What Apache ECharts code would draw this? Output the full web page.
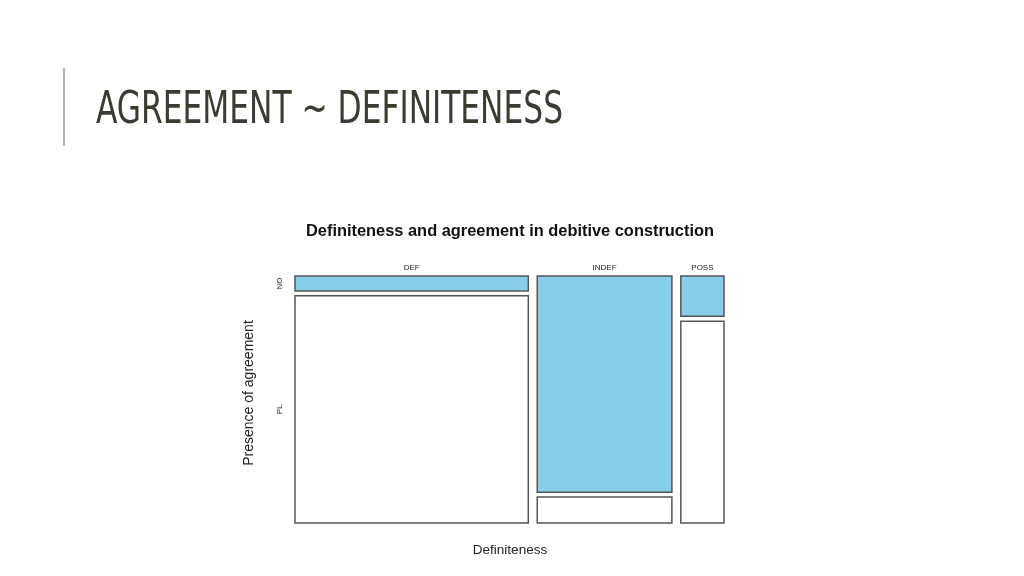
<!DOCTYPE html>
<html><head><meta charset="utf-8">
<script src="https://cdn.jsdelivr.net/npm/echarts@6/dist/echarts.min.js"></script>
<style>html,body{margin:0;padding:0;background:#fff}#c{width:1024px;height:576px}</style>
</head><body><div id="c"></div>
<script>
// Data (counts read from the mosaic proportions)
const categories = ['DEF', 'INDEF', 'POSS'];
const rows = ['NO', 'PL'];
const countsNO = [14, 117, 7];
const countsPL = [213, 14, 35];

const xGap = 8.7;   // gap between columns, in count units
const yGap = 0.02;  // gap between rows, in proportion units

const totals = categories.map((c, i) => countsNO[i] + countsPL[i]);
const grand = totals.reduce((a, b) => a + b, 0);
const xMax = grand + xGap * (categories.length - 1);

const rects = [];
const colLabels = [];
const rowLabels = [];
let x = 0;
categories.forEach((c, i) => {
  const pNO = countsNO[i] / totals[i];
  const x0 = x, x1 = x + totals[i];
  rects.push([x0, x1, 0, pNO, 1]);
  rects.push([x0, x1, pNO + yGap, 1 + yGap, 0]);
  colLabels.push([(x0 + x1) / 2, 0, c]);
  if (i === 0) {
    rowLabels.push([0, pNO / 2, rows[0]]);
    rowLabels.push([0, pNO + yGap + (1 - pNO) / 2, rows[1]]);
  }
  x = x1 + xGap;
});

const slideTitle = 'AGREEMENT ~ DEFINITENESS';
const titleFont = '44px "DejaVu Sans Condensed", "DejaVu Sans"';
const mctx = document.createElement('canvas').getContext('2d');
mctx.font = titleFont;
const titleScale = 467 / mctx.measureText(slideTitle).width;

const chart = echarts.init(document.getElementById('c'));
chart.setOption({
  backgroundColor: '#fff',
  animation: false,
  graphic: [
    { type: 'line', shape: { x1: 64, y1: 68, x2: 64, y2: 146 }, style: { stroke: '#a7b3b6', lineWidth: 2 } },
    { type: 'text', x: 96, y: 112, scaleX: titleScale,
      style: { text: slideTitle, font: titleFont, fill: '#3b3b2f', align: 'left', verticalAlign: 'middle' } },
    { type: 'text', x: 510, y: 231,
      style: { text: 'Definiteness and agreement in debitive construction', font: 'bold 16.4px "Liberation Sans"', fill: '#111', align: 'center', verticalAlign: 'middle' } },
    { type: 'text', x: 510, y: 550,
      style: { text: 'Definiteness', font: '13.5px "Liberation Sans"', fill: '#222', align: 'center', verticalAlign: 'middle' } },
    { type: 'text', x: 249, y: 393, rotation: Math.PI / 2,
      style: { text: 'Presence of agreement', font: '14px "Liberation Sans"', fill: '#222', align: 'center', verticalAlign: 'middle' } }
  ],
  grid: { left: 295, right: 300, top: 276, bottom: 53 },
  xAxis: { type: 'value', min: 0, max: xMax, show: false },
  yAxis: { type: 'value', min: 0, max: 1 + yGap, inverse: true, show: false },
  series: [
    {
      type: 'custom', data: rects, encode: { x: [0, 1], y: [2, 3] },
      renderItem(params, api) {
        const p0 = api.coord([api.value(0), api.value(2)]);
        const p1 = api.coord([api.value(1), api.value(3)]);
        return {
          type: 'rect',
          shape: { x: p0[0], y: Math.min(p0[1], p1[1]), width: p1[0] - p0[0], height: Math.abs(p1[1] - p0[1]) },
          style: { fill: api.value(4) ? '#87CEEB' : '#ffffff', stroke: '#555555', lineWidth: 1.5 }
        };
      }
    },
    {
      type: 'custom', data: colLabels, encode: { x: 0, y: 1 },
      renderItem(params, api) {
        const p = api.coord([api.value(0), api.value(1)]);
        return { type: 'text', x: p[0], y: p[1] - 8,
          style: { text: colLabels[params.dataIndex][2], font: '8px "Liberation Sans"', fill: '#222', align: 'center', verticalAlign: 'middle' } };
      }
    },
    {
      type: 'custom', data: rowLabels, encode: { x: 0, y: 1 },
      renderItem(params, api) {
        const p = api.coord([api.value(0), api.value(1)]);
        return { type: 'text', x: p[0] - 15, y: p[1], rotation: Math.PI / 2,
          style: { text: rowLabels[params.dataIndex][2], font: '8px "Liberation Sans"', fill: '#222', align: 'center', verticalAlign: 'middle' } };
      }
    }
  ]
});
</script></body></html>
